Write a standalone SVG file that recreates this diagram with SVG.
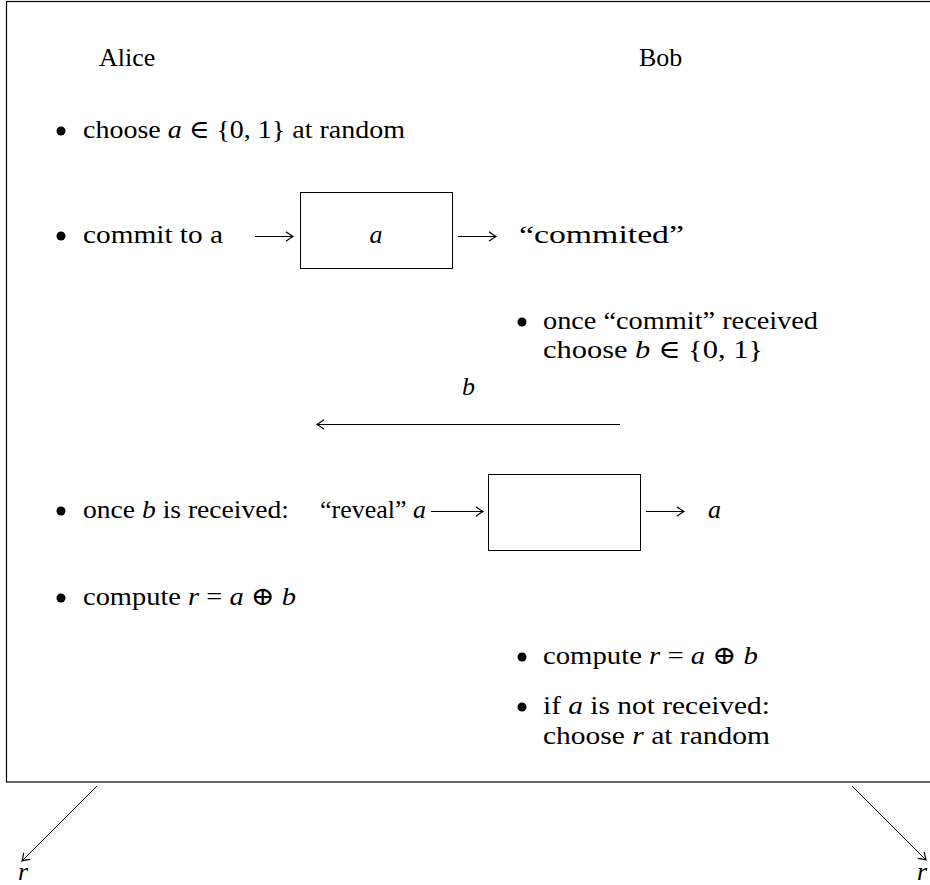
<svg xmlns="http://www.w3.org/2000/svg" width="930" height="885" viewBox="0 0 930 885">
<style>
text{font-family:"Liberation Serif","Times New Roman","DejaVu Serif",serif;font-size:26px;fill:#000}
.m{font-style:italic}
.box{fill:#fff;stroke:#000;stroke-width:1}
.ln{fill:none;stroke:#000;stroke-width:1}
.bul{fill:#000}
</style>
<defs>
<marker id="ah" markerUnits="userSpaceOnUse" markerWidth="14" markerHeight="14" viewBox="-8 -6 10 12" refX="0" refY="0" orient="auto">
<path d="M-6,-4 Q-2,-1 0,0 Q-2,1 -6,4" fill="none" stroke="#000" stroke-width="1"/>
</marker>
</defs>
<rect id="frame" x="6.5" y="1.5" width="1000" height="780.5" fill="none" stroke="#000" stroke-width="1.2"/>
<g id="labels">
<text x="99" y="66">Alice</text>
<text x="639" y="66">Bob</text>
</g>
<g id="alice-steps">
<circle class="bul" cx="61" cy="131" r="4.5"/>
<text x="83" y="137.5" textLength="322" lengthAdjust="spacingAndGlyphs">choose <tspan class="m">a</tspan> ∈ {0, 1} at random</text>
<circle class="bul" cx="61" cy="236" r="4.5"/>
<text x="83" y="242.5" textLength="140" lengthAdjust="spacingAndGlyphs">commit to a</text>
<circle class="bul" cx="61" cy="511" r="4.5"/>
<text x="83" y="517.5" textLength="206" lengthAdjust="spacingAndGlyphs">once <tspan class="m">b</tspan> is received:</text>
<text x="320" y="517.5" textLength="106" lengthAdjust="spacingAndGlyphs">“reveal” <tspan class="m">a</tspan></text>
<circle class="bul" cx="61" cy="598" r="4.5"/>
<text x="83" y="604.5" textLength="213" lengthAdjust="spacingAndGlyphs">compute <tspan class="m">r</tspan> = <tspan class="m">a</tspan> ⊕ <tspan class="m">b</tspan></text>
</g>
<g id="bob-steps">
<text x="519" y="242.5" textLength="165" lengthAdjust="spacingAndGlyphs">“commited”</text>
<circle class="bul" cx="522" cy="322" r="4.5"/>
<text x="543" y="328.5" textLength="275" lengthAdjust="spacingAndGlyphs">once “commit” received</text>
<text x="543" y="357.5" textLength="220" lengthAdjust="spacingAndGlyphs">choose <tspan class="m">b</tspan> ∈ {0, 1}</text>
<text class="m" x="462" y="395">b</text>
<text class="m" x="708" y="517.5">a</text>
<circle class="bul" cx="522" cy="657" r="4.5"/>
<text x="543" y="663.5" textLength="215" lengthAdjust="spacingAndGlyphs">compute <tspan class="m">r</tspan> = <tspan class="m">a</tspan> ⊕ <tspan class="m">b</tspan></text>
<circle class="bul" cx="522" cy="707" r="4.5"/>
<text x="543" y="713.5" textLength="227" lengthAdjust="spacingAndGlyphs">if <tspan class="m">a</tspan> is not received:</text>
<text x="543" y="743.5" textLength="227" lengthAdjust="spacingAndGlyphs">choose <tspan class="m">r</tspan> at random</text>
</g>
<g id="commit-box">
<rect class="box" x="300.5" y="192.5" width="152" height="76"/>
<text class="m" x="376" y="242.5" text-anchor="middle">a</text>
</g>
<g id="reveal-box">
<rect class="box" x="488.5" y="474.5" width="152" height="76"/>
</g>
<g id="results">
<text class="m" x="18" y="880">r</text>
<text class="m" x="917" y="880">r</text>
</g>
<g id="connectors">
<line class="ln" x1="255" y1="236.5" x2="293" y2="236.5" marker-end="url(#ah)"/>
<line class="ln" x1="458" y1="236.5" x2="496" y2="236.5" marker-end="url(#ah)"/>
<line class="ln" x1="620" y1="424.5" x2="317" y2="424.5" marker-end="url(#ah)"/>
<line class="ln" x1="431" y1="511.5" x2="483" y2="511.5" marker-end="url(#ah)"/>
<line class="ln" x1="646" y1="511.5" x2="684" y2="511.5" marker-end="url(#ah)"/>
<line class="ln" x1="97" y1="786" x2="22" y2="861" marker-end="url(#ah)"/>
<line class="ln" x1="852" y1="786" x2="926" y2="860" marker-end="url(#ah)"/>
</g>
</svg>
